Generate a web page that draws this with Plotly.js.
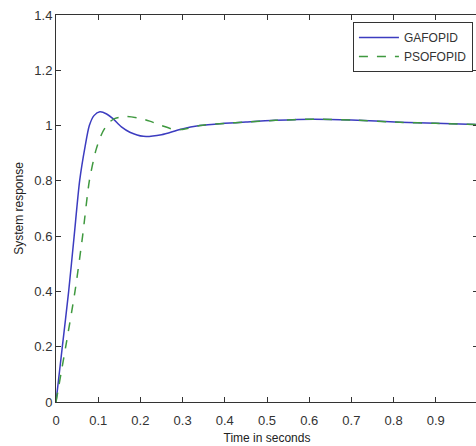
<!DOCTYPE html>
<html><head><meta charset="utf-8">
<script src="https://cdn.plot.ly/plotly-3.0.1.min.js"></script>
<style>html,body{margin:0;padding:0;overflow:hidden;background:#fff}</style>
</head><body><div id="chart"></div>
<script>
const gaTime = [0, 0.015, 0.03, 0.043, 0.056, 0.069, 0.079, 0.09, 0.104, 0.12, 0.135, 0.155, 0.175, 0.207, 0.25, 0.294, 0.341, 0.4, 0.45, 0.52, 0.61, 0.7, 0.815, 0.9, 1.0];
const gaResp = [0, 0.2, 0.4, 0.6, 0.8, 0.925, 1.0, 1.036, 1.05, 1.042, 1.025, 0.995, 0.976, 0.961, 0.967, 0.986, 1.0, 1.008, 1.013, 1.019, 1.023, 1.02, 1.012, 1.008, 1.004];
const psoTime = [0, 0.023, 0.045, 0.063, 0.079, 0.095, 0.11, 0.125, 0.14, 0.167, 0.2, 0.222, 0.25, 0.277, 0.3, 0.341, 0.4, 0.45, 0.52, 0.61, 0.7, 0.815, 0.9, 1.0];
const psoResp = [0, 0.2, 0.4, 0.6, 0.8, 0.913, 0.975, 1.01, 1.026, 1.033, 1.026, 1.016, 1.0, 0.987, 0.986, 1.0, 1.008, 1.013, 1.019, 1.023, 1.02, 1.012, 1.008, 1.004];
const xTicks = [0, 0.1, 0.2, 0.3, 0.4, 0.5, 0.6, 0.7, 0.8, 0.9, 1];
const xTickText = ["0", "0.1", "0.2", "0.3", "0.4", "0.5", "0.6", "0.7", "0.8", "0.9", "1"];
const yTicks = [0, 0.2, 0.4, 0.6, 0.8, 1, 1.2, 1.4];
const yTickText = ["0", "0.2", "0.4", "0.6", "0.8", "1", "1.2", "1.4"];

const fam = "Liberation Sans, Arial, sans-serif";
const tickFont = {family: fam, size: 13, color: "#333"};
const titleFont = {family: fam, size: 12, color: "#222"};
const traces = [
  {x: gaTime, y: gaResp, name: "GAFOPID", mode: "lines",
   line: {color: "#3c3cc0", width: 1.5, shape: "spline", smoothing: 0.7}},
  {x: psoTime, y: psoResp, name: "PSOFOPID", mode: "lines",
   line: {color: "#3f993f", width: 1.5, dash: "dash", shape: "spline", smoothing: 0.7}}
];
const axisCommon = {showgrid: false, zeroline: false, showline: true, linecolor: "#333", linewidth: 1,
  mirror: "ticks", ticks: "inside", ticklen: 5, tickcolor: "#333", tickfont: tickFont};
const layout = {
  width: 480, height: 446,
  margin: {l: 56, r: 2, t: 15, b: 44},
  paper_bgcolor: "#fff", plot_bgcolor: "#fff",
  font: titleFont,
  showlegend: true,
  legend: {x: 0.988, y: 0.982, xanchor: "right", yanchor: "top", bordercolor: "#333", borderwidth: 1,
    bgcolor: "#fff", font: {family: fam, size: 12, color: "#333"}, tracegroupgap: 0, itemwidth: 40},
  xaxis: Object.assign({}, axisCommon, {range: [0, 1], tickmode: "array", tickvals: xTicks, ticktext: xTickText,
    ticklabelstandoff: 6,
    title: {text: "Time in seconds", font: titleFont, standoff: 7}}),
  yaxis: Object.assign({}, axisCommon, {range: [0, 1.4], tickmode: "array", tickvals: yTicks, ticktext: yTickText,
    title: {text: "System response", font: titleFont, standoff: 8}})
};
Plotly.newPlot("chart", traces, layout, {staticPlot: true, displayModeBar: false});
</script></body></html>
